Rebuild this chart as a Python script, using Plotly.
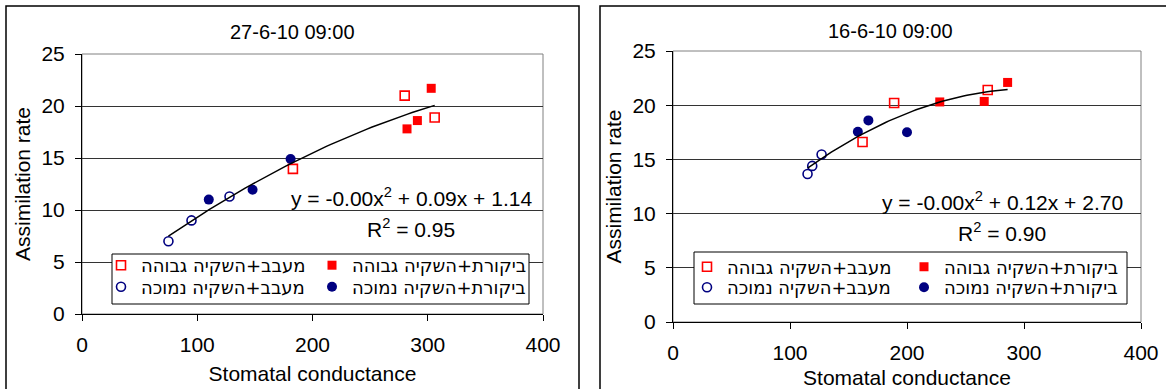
import numpy as np
import plotly.graph_objects as go

W, H = 1166, 389

# ---------------- data ----------------
names = ["מעבב+השקיה גבוהה", "ביקורת+השקיה גבוהה", "מעבב+השקיה נמוכה", "ביקורת+השקיה נמוכה"]

titles = ["27-6-10 09:00", "16-6-10 09:00"]
equations = ["y = -0.00x<sup>2</sup> + 0.09x + 1.14", "y = -0.00x<sup>2</sup> + 0.12x + 2.70"]
r2_texts = ["R<sup>2</sup> = 0.95", "R<sup>2</sup> = 0.90"]

# Panel 1 (27-6-10)
p1_hi_inh_x = [280, 306, 183]
p1_hi_inh_y = [21.0, 18.9, 13.95]
p1_hi_ctl_x = [303, 282, 291]
p1_hi_ctl_y = [21.7, 17.8, 18.6]
p1_lo_inh_x = [75, 95, 128]
p1_lo_inh_y = [7.0, 9.0, 11.3]
p1_lo_ctl_x = [110, 148, 181]
p1_lo_ctl_y = [11.0, 11.95, 14.9]

# Panel 2 (16-6-10)
p2_hi_inh_x = [189, 162, 269]
p2_hi_inh_y = [20.2, 16.6, 21.4]
p2_hi_ctl_x = [286, 228, 266]
p2_hi_ctl_y = [22.1, 20.3, 20.35]
p2_lo_inh_x = [115, 119, 127]
p2_lo_inh_y = [13.65, 14.4, 15.45]
p2_lo_ctl_x = [158, 167, 200]
p2_lo_ctl_y = [17.55, 18.6, 17.5]

x_ticks = [0, 100, 200, 300, 400]
y_ticks = [0, 5, 10, 15, 20, 25]

# ---------------- layout geometry (pixels) ----------------
FONT = "Liberation Sans, Arial, sans-serif"
LEG_FONT = "DejaVu Sans, Liberation Sans, Arial, sans-serif"
RED = "#FF0000"
NAVY = "#000080"

def px(x):
    return x / W

def py(y):
    return 1 - y / H

panels = [
    dict(xd=(82, 543), yd=(54, 314), box=(6, 579), title_x=292.5, title_y=32,
         eq=(411, 197), r2=(411, 228), leg_box=(112, 254, 529, 304),
         leg_cols=(125, 336), leg_rows=(265.5, 287)),
    dict(xd=(673, 1141), yd=(51, 322), box=(600, 1185), title_x=890, title_y=31,
         eq=(1002, 201), r2=(1002, 232), leg_box=(694, 252, 1127, 304),
         leg_cols=(711, 928), leg_rows=(267, 287.5)),
]

series = [
    [(p1_hi_inh_x, p1_hi_inh_y), (p1_hi_ctl_x, p1_hi_ctl_y), (p1_lo_inh_x, p1_lo_inh_y), (p1_lo_ctl_x, p1_lo_ctl_y)],
    [(p2_hi_inh_x, p2_hi_inh_y), (p2_hi_ctl_x, p2_hi_ctl_y), (p2_lo_inh_x, p2_lo_inh_y), (p2_lo_ctl_x, p2_lo_ctl_y)],
]

markers = [
    dict(symbol="square-open", color=RED, size=9, line=dict(width=1.6, color=RED)),
    dict(symbol="square", color=RED, size=9, line=dict(width=0)),
    dict(symbol="circle-open", color=NAVY, size=9, line=dict(width=1.6, color=NAVY)),
    dict(symbol="circle", color=NAVY, size=10, line=dict(width=0)),
]
# legend slot (col, row) for each series
slots = [(0, 0), (1, 0), (0, 1), (1, 1)]

fig = go.Figure()
shapes = []
annotations = []
layout_extra = {}

leg_idx = 1
for pi, (pan, ser) in enumerate(zip(panels, series)):
    ax = "" if pi == 0 else str(pi + 1)
    xa, ya = "x" + ax, "y" + ax
    for si, (sx, sy) in enumerate(ser):
        lname = "legend" if leg_idx == 1 else f"legend{leg_idx}"
        fig.add_trace(go.Scatter(
            x=sx, y=sy, mode="markers", name=names[si], marker=markers[si],
            xaxis=xa, yaxis=ya, legend=lname, showlegend=True))
        col, row = slots[si]
        layout_extra[lname] = dict(
            x=px(pan["leg_cols"][col] - 24), y=py(pan["leg_rows"][row]),
            xanchor="left", yanchor="middle", bgcolor="rgba(0,0,0,0)",
            borderwidth=0, font=dict(family=LEG_FONT, size=18, color="black"))
        leg_idx += 1
    # polynomial (2nd order) trendline fitted to all points of the panel
    allx = np.concatenate([np.asarray(s[0], float) for s in ser])
    ally = np.concatenate([np.asarray(s[1], float) for s in ser])
    coef = np.polyfit(allx, ally, 2)
    fx = np.linspace(allx.min(), allx.max(), 60)
    fig.add_trace(go.Scatter(x=fx, y=np.polyval(coef, fx), mode="lines",
                             line=dict(color="black", width=1.5), xaxis=xa, yaxis=ya,
                             showlegend=False, hoverinfo="skip"))

    common_axis = dict(showline=True, linecolor="black", linewidth=1, ticks="outside",
                       ticklen=6, tickcolor="black", tickwidth=1,
                       tickfont=dict(family=FONT, size=21, color="black"), zeroline=False)
    layout_extra["xaxis" + ax] = dict(
        common_axis, domain=[px(pan["xd"][0]), px(pan["xd"][1])], range=[0, 400],
        tickvals=x_ticks, showgrid=False, anchor=ya, ticklabelstandoff=6,
        title=dict(text="Stomatal conductance", font=dict(family=FONT, size=21, color="black"),
                   standoff=11))
    layout_extra["yaxis" + ax] = dict(
        common_axis, domain=[py(pan["yd"][1]), py(pan["yd"][0])], range=[0, 25],
        tickvals=y_ticks, showgrid=True, gridcolor="#333333", gridwidth=1, anchor=xa,
        ticklabelstandoff=6,
        title=dict(text="Assimilation rate", font=dict(family=FONT, size=21, color="black"),
                   standoff=5))

    # panel (chart area) border
    shapes.append(dict(type="rect", xref="paper", yref="paper",
                       x0=px(pan["box"][0]), x1=px(pan["box"][1]), y0=-0.1, y1=py(6),
                       line=dict(color="black", width=1.5), fillcolor="rgba(0,0,0,0)",
                       layer="below"))
    # plot area border (grey)
    shapes.append(dict(type="rect", xref=xa + " domain", yref=ya + " domain",
                       x0=0, x1=1, y0=0, y1=1, line=dict(color="#808080", width=1),
                       layer="below"))
    # legend box
    lb = pan["leg_box"]
    shapes.append(dict(type="rect", xref="paper", yref="paper",
                       x0=px(lb[0]), x1=px(lb[2]), y0=py(lb[3]), y1=py(lb[1]),
                       line=dict(color="black", width=1), fillcolor="white", layer="above"))

    annotations.append(dict(text=titles[pi], x=px(pan["title_x"]), y=py(pan["title_y"]),
                            xref="paper", yref="paper", showarrow=False,
                            xanchor="center", yanchor="middle",
                            font=dict(family=FONT, size=20, color="black")))
    annotations.append(dict(text=equations[pi], x=px(pan["eq"][0]), y=py(pan["eq"][1]),
                            xref="paper", yref="paper", showarrow=False,
                            xanchor="center", yanchor="middle",
                            font=dict(family=FONT, size=21, color="black")))
    annotations.append(dict(text=r2_texts[pi], x=px(pan["r2"][0]), y=py(pan["r2"][1]),
                            xref="paper", yref="paper", showarrow=False,
                            xanchor="center", yanchor="middle",
                            font=dict(family=FONT, size=21, color="black")))

fig.update_layout(
    width=W, height=H, margin=dict(l=0, r=0, t=0, b=0, autoexpand=False),
    paper_bgcolor="white", plot_bgcolor="white",
    shapes=shapes, annotations=annotations, hovermode=False,
    **layout_extra)

fig.write_html("out.html")
